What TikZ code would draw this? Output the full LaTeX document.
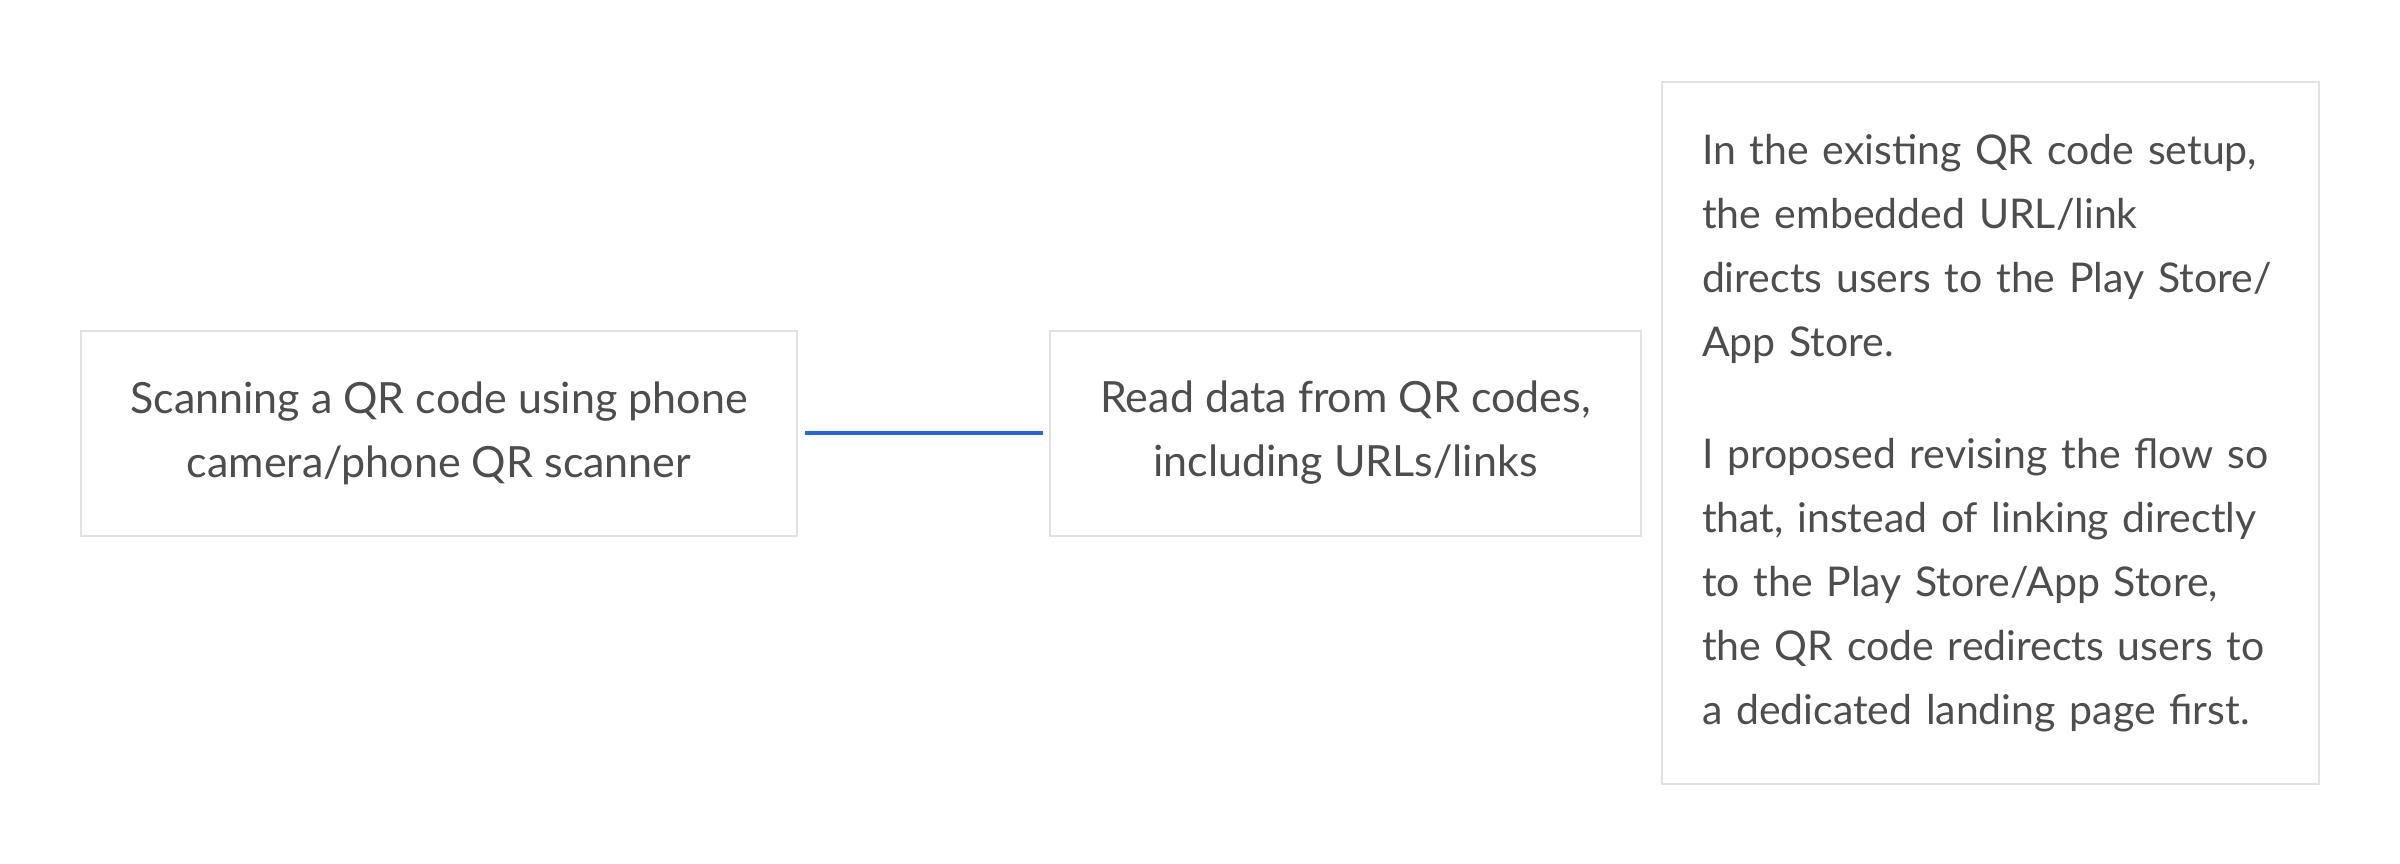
\documentclass[tikz,border=0pt]{standalone}
\usepackage{fontspec}
\setmainfont{Lato}
\definecolor{txtgray}{HTML}{4D4D4D}
\definecolor{boxgray}{HTML}{E2E2E2}
\definecolor{linkblue}{HTML}{2563EB}
\begin{document}
\begin{tikzpicture}[x=1pt,y=-1pt,
  box/.style={draw=boxgray, line width=2pt, fill=white, inner sep=0pt, text=txtgray},
  bigtxt/.style={font=\fontsize{43}{64}\selectfont},
  smalltxt/.style={font=\fontsize{41}{64}\selectfont},
  link/.style={draw=linkblue, line width=4.5pt}]
\useasboundingbox (0,0) rectangle (2400,864);
\node[box, bigtxt, minimum width=716pt, minimum height=205pt, align=center] (b1) at (439,433)
  {Scanning a QR code using phone\\camera/phone QR scanner};
\node[box, bigtxt, minimum width=591pt, minimum height=205pt, align=center] (b2) at (1345.5,433)
  {Read data from QR codes,\\including URLs/links};
\node[box, smalltxt, minimum width=657pt, minimum height=701pt, align=left, text width=577pt] (b3) at (1990.5,433)
  {In the existing QR code setup,\\the embedded URL/link\\directs users to the Play Store/\\App Store.\\[48pt]I proposed revising the flow so\\that, instead of linking directly\\to the Play Store/App Store,\\the QR code redirects users to\\a dedicated landing page first.};
\draw[link, shorten <=7pt, shorten >=6pt] (b1.east) -- (b2.west);
\end{tikzpicture}
\end{document}
